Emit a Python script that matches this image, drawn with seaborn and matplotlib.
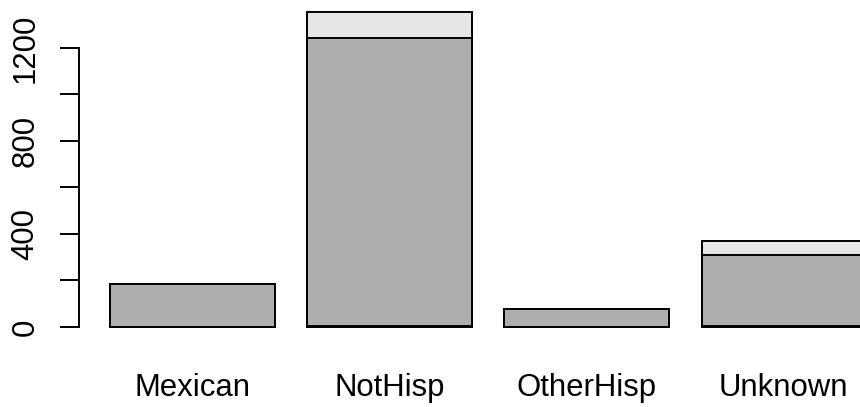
import numpy as np
import pandas as pd
import matplotlib
matplotlib.use('Agg')
import matplotlib.pyplot as plt
import seaborn as sns

# ethnicity groups and the three stacked segments (bottom -> top)
GROUPS = ['Mexican', 'NotHisp', 'OtherHisp', 'Unknown']
seg_low = [0, 4, 0, 3]
seg_mid = [185, 1238, 76, 307]
seg_high = [2, 114, 0, 61]
COLORS = ['#4D4D4D', '#AEAEAE', '#E6E6E6']

sns.set_style('white')
plt.rcParams['font.family'] = ['Liberation Sans', 'DejaVu Sans']

low = np.array(seg_low)
mid = low + np.array(seg_mid)
top = mid + np.array(seg_high)

fig = plt.figure(figsize=(8.6, 4.07), dpi=100)
ax = fig.add_axes([0.0919, 0.1656, 0.9081, 0.8344])

# draw cumulative heights, tallest first, so the segments stack
for heights, col in [(top, COLORS[2]), (mid, COLORS[1]), (low, COLORS[0])]:
    df = pd.DataFrame({'group': GROUPS, 'n': heights})
    sns.barplot(data=df, x='group', y='n', order=GROUPS, color=col,
                saturation=1, edgecolor='black', linewidth=1.4,
                width=0.833, ax=ax)

ax.set_xlim(-0.576, 3.388)
ax.set_ylim(-54.2, 1406)
ax.set_xlabel('')
ax.set_ylabel('')

for side in ['top', 'right', 'bottom']:
    ax.spines[side].set_visible(False)
ax.spines['left'].set_bounds(0, 1200)
ax.spines['left'].set_linewidth(1.4)
ax.spines['left'].set_color('black')

ax.set_yticks([0, 400, 800, 1200])
ax.set_yticks([200, 600, 1000], minor=True)
ax.tick_params(axis='y', which='both', left=True, length=13.7, width=1.4,
               color='black', direction='out')
ax.tick_params(axis='y', which='major', pad=14, labelsize=22.4,
               labelcolor='black')
for lab in ax.get_yticklabels():
    lab.set_rotation(90)
    lab.set_va('center')

ax.tick_params(axis='x', length=0, pad=24, labelsize=22.4, labelcolor='black')

fig.savefig('out.png', dpi=100)
